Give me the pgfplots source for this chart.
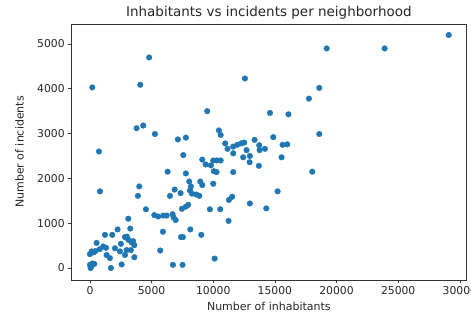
\documentclass[border=0pt]{standalone}
\usepackage{pgfplots}
\pgfplotsset{compat=1.18}
\usepackage{fontspec}
\setmainfont{DejaVu Sans}
\definecolor{mplblue}{HTML}{1F77B4}
\begin{document}
\begin{tikzpicture}
\useasboundingbox (-71.7pt,-40pt) rectangle (399.3pt,280pt);
\begin{axis}[
  at={(0pt,0pt)}, anchor=south west,
  scale only axis, width=394.3pt, height=256pt,
  xmin=-1480, xmax=30500, ymin=-268, ymax=5446,
  xtick={0,5000,10000,15000,20000,25000,30000},
  ytick={0,1000,2000,3000,4000,5000},
  /pgf/number format/1000 sep={},
  /pgf/number format/assume math mode=true,
  scaled ticks=false,
  tick align=outside, major tick length=3.5pt,
  xtick pos=bottom, ytick pos=left,
  tick style={black!80, line width=0.6pt},
  axis line style={black!80, line width=0.6pt},
  ticklabel style={font=\fontsize{10.8}{12}\selectfont, text=black!85},
  xticklabel style={yshift=1pt},
  label style={font=\fontsize{11}{12}\selectfont, text=black!85},
  xlabel={Number of inhabitants},
  ylabel={Number of incidents},
  xlabel style={at={(axis description cs:0.5,0)}, anchor=north, yshift=-19pt},
  ylabel style={at={(axis description cs:0,0.5)}, anchor=south, yshift=44.5pt},
  title={Inhabitants vs incidents per neighborhood},
  title style={font=\fontsize{13.5}{15}\selectfont, text=black!85, yshift=-5pt},
  axis background/.style={fill=white},
]
\addplot[only marks, mark=*, mark size=2.8pt, mark options={fill=mplblue, draw=mplblue}] coordinates {
(29100,5200) (23900,4900) (19200,4900) (4800,4700) (12570,4230) (190,4030)
(4080,4090) (18600,4020) (17760,3780) (9510,3500) (14600,3460) (16100,3430)
(3780,3120) (4320,3180) (5270,2990) (18600,2990) (7130,2870) (7780,2910)
(10460,3070) (10600,2970) (14870,2920) (730,2600) (10970,2780) (11160,2660)
(11620,2710) (11950,2750) (12270,2780) (12510,2800) (12700,2630) (13350,2860)
(13730,2740) (13760,2630) (14190,2660) (15620,2750) (16000,2760) (12430,2470)
(12970,2500) (12950,2360) (15540,2470) (13700,2280) (11620,2560) (7570,2520)
(9110,2420) (9380,2310) (9810,2290) (10000,2400) (10270,2400) (10600,2400)
(10050,2160) (10270,2140) (6300,2150) (7780,2110) (11620,2140) (18030,2150)
(8050,1930) (8190,1820) (8950,1930) (9110,1850) (10000,1880) (4000,1820)
(3890,1610) (810,1710) (6490,1610) (6870,1750) (7350,1670) (8110,1730)
(8270,1660) (8620,1640) (8870,1610) (11270,1520) (11540,1590) (15220,1710)
(12970,1440) (14300,1330) (9730,1310) (10570,1310) (7460,1320) (7780,1370)
(7970,1410) (4540,1310) (5220,1180) (5540,1150) (5950,1170) (6220,1170)
(6700,1200) (6780,1130) (6950,1070) (11240,1050) (3110,1100) (5920,810)
(8140,860) (9030,740) (7380,690) (7540,690) (5700,390) (6730,70)
(7510,70) (10110,210) (2240,860) (1220,740) (1810,740) (3270,880)
(2840,690) (3110,630) (3380,570) (3600,510) (540,560) (1080,480)
(2510,540) (2030,440) (2430,370) (2970,400) (3320,400) (140,370)
(0,310) (1350,290) (1620,220) (2840,290) (3600,240) (0,70)
(1700,0) (2570,80) (100,30) (200,100) (350,90) (50,0)
(300,350) (450,380) (800,420) (1300,450) (3500,600) (3000,700)
};
\end{axis}
\end{tikzpicture}
\end{document}
